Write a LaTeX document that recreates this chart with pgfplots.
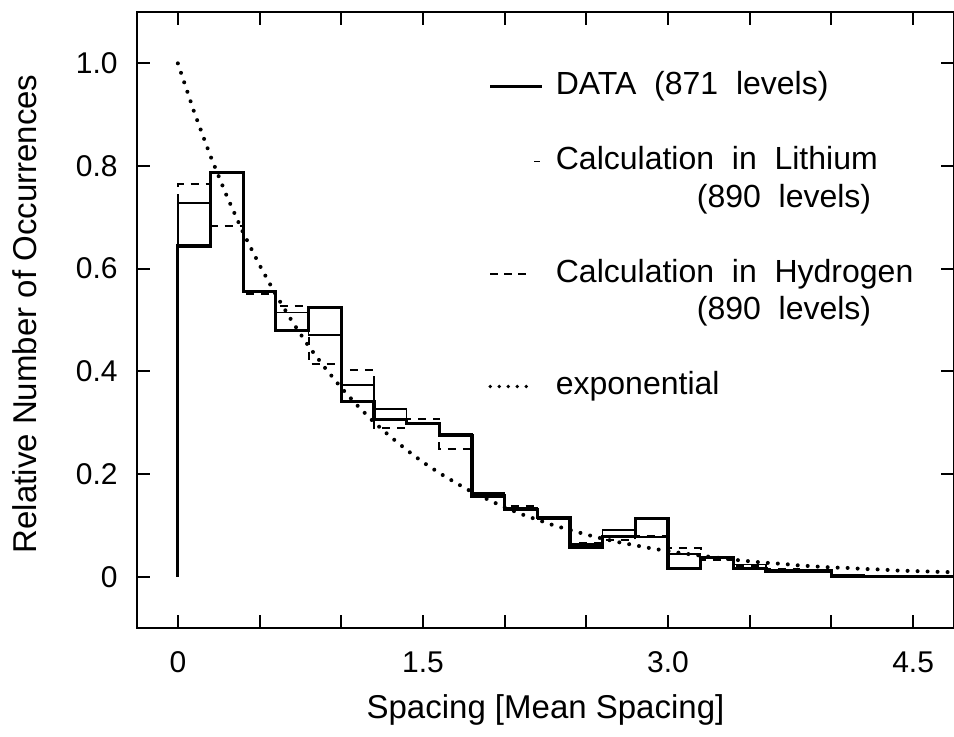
\documentclass[border=0pt]{standalone}
\usepackage{fontspec}
\setmainfont{Liberation Sans}
\usepackage{pgfplots}
\pgfplotsset{compat=1.18}
\begin{document}
\begin{tikzpicture}
\useasboundingbox (-68.5pt,-54pt) rectangle (408.5pt,314pt);
\begin{axis}[
  at={(0pt,0pt)}, anchor=south west,
  scale only axis, width=408.5pt, height=308pt,
  xmin=-0.25, xmax=4.75, ymin=-0.1, ymax=1.1,
  axis line style={line width=1.2pt},
  xtick={0,0.5,1,1.5,2,2.5,3,3.5,4,4.5},
  xticklabels={0,,,1.5,,,3.0,,,4.5},
  ytick={0,0.2,0.4,0.6,0.8,1.0},
  yticklabels={0,0.2,0.4,0.6,0.8,1.0},
  tick align=inside, major tick length=6.5pt,
  tick style={line width=1pt, black},
  /pgf/number format/assume math mode=true,
  tick label style={font=\fontsize{15}{18}\selectfont, inner sep=0pt},
  xticklabel style={anchor=center, yshift=-17pt},
  yticklabel style={anchor=east, xshift=-9.5pt},
  label style={font=\fontsize{16.5}{19}\selectfont},
  xlabel={Spacing [Mean Spacing]},
  xlabel style={at={(axis description cs:0.5,-0.133)}, anchor=center},
  ylabel={Relative Number of Occurrences},
  ylabel style={at={(axis description cs:-0.137,0.51)}, anchor=center},
  legend cell align=left,
  legend style={at={(rel axis cs:0.4296,0.905)}, anchor=north west,
    draw=none, fill=none, inner sep=0pt, row sep=3.25pt, column sep=6pt,
    font=\fontsize{16}{19.5}\selectfont,
    nodes={inner sep=0pt, text height=12pt, text depth=3.5pt}},
]
% DATA (871 levels)
\addplot[const plot, black, line width=1.6pt,
  legend image code/.code={\draw[black, line width=1.6pt] (0pt,0pt) -- (26pt,0pt);}]
coordinates {
(0,0) (0,0.644) (0.2,0.788) (0.4,0.556) (0.6,0.480) (0.8,0.525)
(1.0,0.342) (1.2,0.306) (1.4,0.299) (1.6,0.275) (1.8,0.157)
(2.0,0.131) (2.2,0.116) (2.4,0.058) (2.6,0.079) (2.8,0.114)
(3.0,0.016) (3.2,0.038) (3.4,0.016) (3.6,0.011) (3.8,0.011)
(4.0,0.000) (4.2,0.000) (4.4,0.000) (4.6,0.000) (4.75,0.000)
};
\addlegendentry{DATA\ \ (871\ \ levels)}
\addlegendimage{empty legend}
\addlegendentry{\phantom{x}}
% Calculation in Lithium
\addplot[const plot, black, line width=0.7pt,
  legend image code/.code={\path[draw=none] (0pt,0pt) -- (26pt,0pt); \draw[black, solid, line width=0.7pt] (22pt,0pt) -- (25pt,0pt);}]
coordinates {
(0,0) (0,0.728) (0.2,0.786) (0.4,0.556) (0.6,0.515) (0.8,0.471)
(1.0,0.373) (1.2,0.327) (1.4,0.300) (1.6,0.278) (1.8,0.163)
(2.0,0.135) (2.2,0.112) (2.4,0.064) (2.6,0.091) (2.8,0.077)
(3.0,0.044) (3.2,0.036) (3.4,0.024) (3.6,0.012) (3.8,0.010)
(4.0,0.004) (4.2,0.002) (4.4,0.001) (4.6,0.001) (4.75,0.001)
};
\addlegendentry{Calculation\ \ in\ \ Lithium}
\addlegendimage{empty legend}
\addlegendentry{\hspace*{70.5pt}(890\ \ levels)}
\addlegendimage{empty legend}
\addlegendentry{\phantom{x}}
% Calculation in Hydrogen
\addplot[const plot, black, line width=1pt, dash pattern=on 4pt off 3.5pt,
  legend image code/.code={\path[draw=none] (0pt,0pt) -- (26pt,0pt); \draw[black, line width=1pt, dash pattern=on 4pt off 3pt] (0pt,0pt) -- (19pt,0pt);}]
coordinates {
(0,0) (0,0.764) (0.2,0.684) (0.4,0.551) (0.6,0.528) (0.8,0.415)
(1.0,0.402) (1.2,0.290) (1.4,0.308) (1.6,0.249) (1.8,0.160)
(2.0,0.138) (2.2,0.112) (2.4,0.066) (2.6,0.071) (2.8,0.080)
(3.0,0.055) (3.2,0.033) (3.4,0.020) (3.6,0.014) (3.8,0.012)
(4.0,0.004) (4.2,0.002) (4.4,0.001) (4.6,0.001) (4.75,0.001)
};
\addlegendentry{Calculation\ \ in\ \ Hydrogen}
\addlegendimage{empty legend}
\addlegendentry{\hspace*{70.5pt}(890\ \ levels)}
\addlegendimage{empty legend}
\addlegendentry{\phantom{x}}
% exponential
\addplot[black, line width=2pt, line cap=round, dash pattern=on 0pt off 5pt,
  legend image code/.code={\path[draw=none] (0pt,0pt) -- (26pt,0pt); \draw[black, line width=1.9pt, line cap=round, dash pattern=on 0pt off 4.5pt] (0pt,0pt) -- (19pt,0pt);}]
coordinates {
(0,1.000) (0.1,0.905) (0.2,0.819) (0.3,0.741) (0.4,0.670) (0.5,0.607)
(0.6,0.549) (0.7,0.497) (0.8,0.449) (0.9,0.407) (1.0,0.368)
(1.1,0.333) (1.2,0.301) (1.3,0.273) (1.4,0.247) (1.5,0.223)
(1.6,0.202) (1.7,0.183) (1.8,0.165) (1.9,0.150) (2.0,0.135)
(2.1,0.122) (2.2,0.111) (2.3,0.100) (2.4,0.091) (2.5,0.082)
(2.6,0.074) (2.7,0.067) (2.8,0.061) (2.9,0.055) (3.0,0.050)
(3.1,0.045) (3.2,0.041) (3.3,0.037) (3.4,0.033) (3.5,0.030)
(3.6,0.027) (3.7,0.025) (3.8,0.022) (3.9,0.020) (4.0,0.018)
(4.1,0.017) (4.2,0.015) (4.3,0.014) (4.4,0.012) (4.5,0.011)
(4.6,0.010) (4.7,0.009) (4.75,0.009)
};
\addlegendentry{exponential}
\end{axis}
\end{tikzpicture}
\end{document}
